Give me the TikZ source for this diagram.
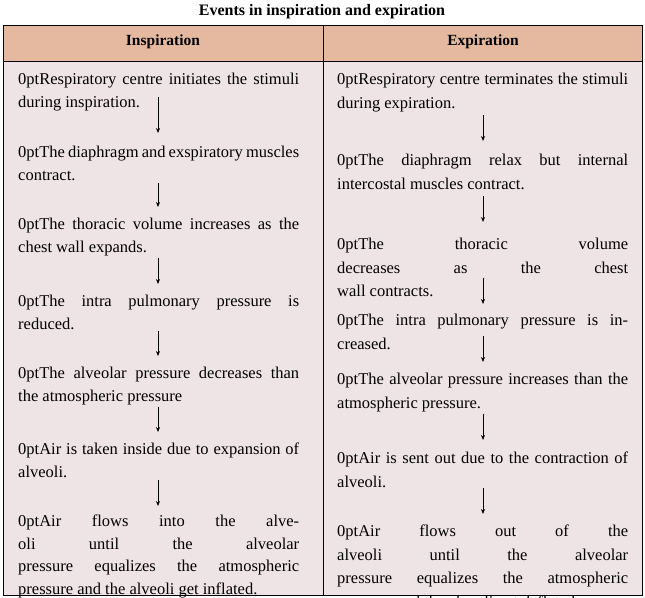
\documentclass[tikz,border=0pt]{standalone}
\usepackage{fontspec}
\setmainfont{Liberation Serif}
\usetikzlibrary{arrows.meta}
\definecolor{headfill}{HTML}{E5B9A0}
\definecolor{bodyfill}{HTML}{EEE4E6}
\begin{document}
\begin{tikzpicture}[x=1pt, y=-1pt,
    lefttext/.style={anchor=north west, inner sep=0, text width=281pt, align=justify,
      font=\fontsize{16.5}{22.5}\selectfont\hyphenpenalty=10000\relax},
    righttext/.style={anchor=north west, inner sep=0, text width=291pt, align=justify,
      font=\fontsize{16.5}{23.5}\selectfont\hyphenpenalty=10000\relax},
    flow/.style={-{Stealth[length=5pt,width=4pt]}, line width=0.8pt}]
    \useasboundingbox (0,0) rectangle (645,597);

    % table
    \fill[bodyfill] (3,25) rectangle (642,595);
    \fill[headfill] (3,25) rectangle (642,61);
    \draw[line width=0.7pt] (3,25) rectangle (642,595);
    \draw[line width=0.7pt] (3,61) -- (642,61);
    \draw[line width=0.7pt] (323,25) -- (323,595);

    % title and headings
    \node[font=\bfseries\fontsize{16}{18}\selectfont] (title) at (322,12) {Events in inspiration and expiration};
    \node[font=\bfseries\fontsize{15.5}{18}\selectfont] (insp) at (163,42) {Inspiration};
    \node[font=\bfseries\fontsize{15.5}{18}\selectfont] (exp) at (483,42) {Expiration};

    % inspiration
    \node[lefttext] (i1) at (18,73) {Respiratory centre initiates the stimuli\linebreak during inspiration.};
    \node[lefttext] (i2) at (18,146) {The diaphragm and exspiratory muscles\linebreak contract.};
    \node[lefttext] (i3) at (18,218) {The thoracic volume increases as the\linebreak chest wall expands.};
    \node[lefttext] (i4) at (18,295) {The intra pulmonary pressure is\linebreak reduced.};
    \node[lefttext] (i5) at (18,367) {The alveolar pressure decreases than\linebreak the atmospheric pressure};
    \node[lefttext] (i6) at (18,443) {Air is taken inside due to expansion of\linebreak alveoli.};
    \node[lefttext] (i7) at (18,515) {Air flows into the alveoli until the alveolar\linebreak pressure equalizes the atmospheric\linebreak pressure and the alveoli get inflated.};

    % expiration
    \node[righttext] (e1) at (337,73) {Respiratory centre terminates the stimuli\linebreak during expiration.};
    \node[righttext] (e2) at (337,154) {The diaphragm relax but internal\linebreak intercostal muscles contract.};
    \node[righttext] (e3) at (337,238) {The thoracic volume decreases as the chest\linebreak wall contracts.};
    \node[righttext] (e4) at (337,314) {The intra pulmonary pressure is increased.};
    \node[righttext] (e5) at (337,373) {The alveolar pressure increases than the\linebreak atmospheric pressure.};
    \node[righttext] (e6) at (337,452) {Air is sent out due to the contraction of\linebreak alveoli.};
    \node[righttext] (e7) at (337,525) {Air flows out of the alveoli until the alveolar\linebreak pressure equalizes the atmospheric\linebreak pressure and the alveoli get deflated.};

    % arrows
    \foreach \a/\b in {97/133, 183/207, 258/284, 331/356, 407/432, 480/506}
        \draw[flow] (158,\a) -- (158,\b);
    \foreach \a/\b in {115/141, 196/222, 278/304, 336/362, 414/440, 488/514}
        \draw[flow] (483,\a) -- (483,\b);
\end{tikzpicture}
\end{document}
